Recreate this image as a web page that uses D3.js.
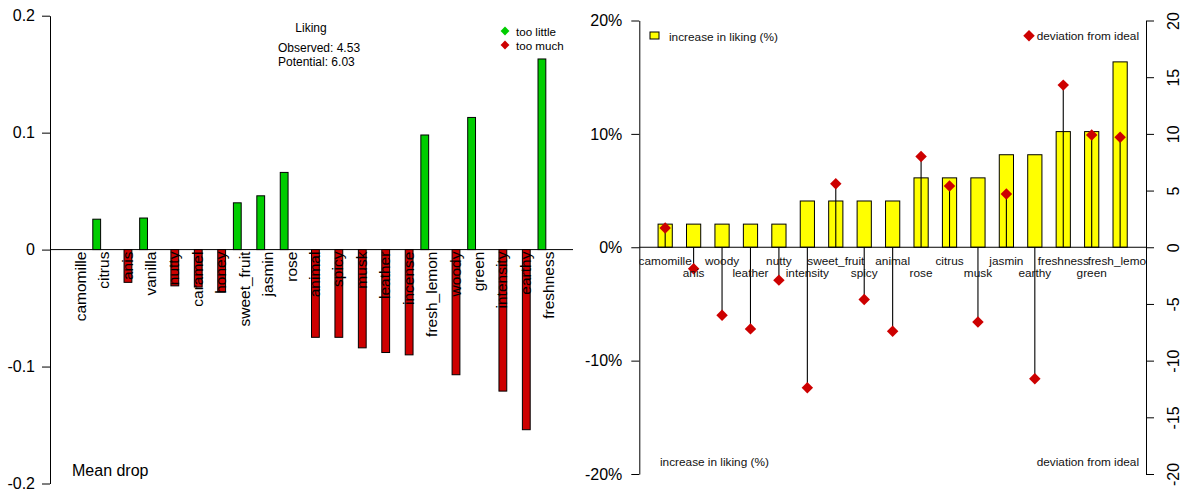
<!DOCTYPE html>
<html>
<head>
<meta charset="utf-8">
<script src="https://cdn.jsdelivr.net/npm/d3@7"></script>
<style>
  html, body { margin: 0; padding: 0; background: #fff; }
  svg { display: block; font-family: "Liberation Sans", Arial, Helvetica, sans-serif; }
</style>
</head>
<body>
<svg id="chart" width="1182" height="494"></svg>
<script>
// Penalty analysis: mean drop per attribute (left) and potential gain in liking (right)
const dropCategories = ["camomille", "citrus", "anis", "vanilla", "nutty", "caramel", "honey",
  "sweet_fruit", "jasmin", "rose", "animal", "spicy", "musk", "leather", "incense",
  "fresh_lemon", "woody", "green", "intensity", "earthy", "freshness"];
const tooLittle = [0, 0.026, 0, 0.027, 0, 0, 0, 0.040, 0.046, 0.066, 0, 0, 0, 0, 0,
  0.098, 0, 0.113, 0, 0, 0.163];
const tooMuch = [0, 0, -0.028, 0, -0.031, -0.032, -0.036, 0, 0, 0, -0.075, -0.075, -0.084,
  -0.088, -0.090, 0, -0.107, 0, -0.121, -0.154, 0];
const dropTicks = [0.2, 0.1, 0, -0.1, -0.2];

const gainCategories = ["camomille", "anis", "woody", "leather", "nutty", "intensity",
  "sweet_fruit", "spicy", "animal", "rose", "citrus", "musk", "jasmin", "earthy",
  "freshness", "green", "fresh_lemon"];
const likingIncrease = [2.04, 2.04, 2.04, 2.04, 2.04, 4.08, 4.08, 4.08, 4.08, 6.12, 6.12,
  6.12, 8.16, 8.16, 10.2, 10.2, 16.35];
const deviation = [1.7, -1.9, -6.0, -7.2, -2.9, -12.4, 5.6, -4.6, -7.4, 8.0, 5.4, -6.6,
  4.7, -11.6, 14.3, 9.9, 9.7];
const pctTicks = [20, 10, 0, -10, -20];
const devTicks = [20, 15, 10, 5, 0, -5, -10, -15, -20];

const GREEN = "#00CD00", RED = "#CD0000", YELLOW = "#FFFF00";
const svg = d3.select("#chart");
const plain = d => String(d);  // ASCII hyphen for negatives

// ---------- Left panel: mean drop ----------
const L = { left: 50, right: 573 };
const yDrop = d3.scaleLinear().domain([-0.2, 0.2]).range([483.5, 15.7]);
// each group = one blank slot + two bars; bar extent padded by 4% on each side
const lSpan = 21 * 3 - 1, lPad = lSpan * 0.04;
const lUnit = (L.right - L.left) / (lSpan + 2 * lPad);
const xDrop = d3.scaleBand().domain(dropCategories)
  .range([L.left + lPad * lUnit, L.right - lPad * lUnit])
  .paddingInner(1 / 3).paddingOuter(0);
const xSub = d3.scaleBand().domain(["little", "much"]).range([0, xDrop.bandwidth()]);

const left = svg.append("g");
left.append("line").attr("x1", L.left).attr("x2", L.right)
  .attr("y1", yDrop(0)).attr("y2", yDrop(0)).attr("stroke", "#000");

const barRows = dropCategories.map((c, i) => [
  { cat: c, key: "little", v: tooLittle[i] },
  { cat: c, key: "much", v: tooMuch[i] }
]).flat();

left.selectAll("rect.bar").data(barRows).join("rect")
  .attr("class", "bar")
  .attr("x", d => xDrop(d.cat) + xSub(d.key))
  .attr("width", xSub.bandwidth())
  .attr("y", d => Math.min(yDrop(d.v), yDrop(0)) - (d.v === 0 ? 1 : 0))
  .attr("height", d => Math.abs(yDrop(d.v) - yDrop(0)))
  .attr("fill", d => d.key === "little" ? GREEN : RED)
  .attr("stroke", d => d.v === 0 ? "#bbb" : "#000")
  .attr("stroke-width", 1);

left.selectAll("text.cat").data(dropCategories).join("text")
  .attr("class", "cat")
  .attr("transform", d => `translate(${xDrop(d) + xDrop.bandwidth() / 2 + 3},${yDrop(0) + 2}) rotate(-90)`)
  .attr("text-anchor", "end")
  .attr("dominant-baseline", "central")
  .attr("font-size", 15.5)
  .text(d => d);

const axL = left.append("g").attr("transform", `translate(${L.left},0)`)
  .call(d3.axisLeft(yDrop).tickValues(dropTicks).tickSize(8).tickSizeOuter(0).tickPadding(7)
    .tickFormat(plain));
axL.selectAll("text").attr("font-size", 16).attr("fill", "#000").attr("font-family", null);
axL.selectAll("line, path").attr("stroke", "#000");

left.append("text").attr("x", 72).attr("y", 476).attr("font-size", 16).text("Mean drop");

left.append("text").attr("x", 311).attr("y", 32).attr("font-size", 12).attr("text-anchor", "middle").text("Liking");
left.append("text").attr("x", 278).attr("y", 52).attr("font-size", 12).text("Observed: 4.53");
left.append("text").attr("x", 278).attr("y", 66).attr("font-size", 12).text("Potential: 6.03");

const diamond = d3.symbol().type(d3.symbolDiamond2);
[["too little", GREEN, 31], ["too much", RED, 45]].forEach(([label, col, yy]) => {
  left.append("path").attr("d", diamond.size(50)()).attr("fill", col)
    .attr("transform", `translate(505,${yy})`);
  left.append("text").attr("x", 516).attr("y", yy).attr("dominant-baseline", "central")
    .attr("font-size", 11.6).text(label);
});

// ---------- Right panel: increase in liking & deviation ----------
const R = { left: 639.3, right: 1146 };
const yPct = d3.scaleLinear().domain([-20, 20]).range([474, 20.5]);
const yDev = d3.scaleLinear().domain([-20, 20]).range([474, 20.5]);
const rSpan = gainCategories.length * 2 - 1, rPad = rSpan * 0.04;
const rUnit = (R.right - R.left) / (rSpan + 2 * rPad);
const xGain = d3.scaleBand().domain(gainCategories)
  .range([R.left + rPad * rUnit, R.right - rPad * rUnit])
  .paddingInner(0.5).paddingOuter(0);

const right = svg.append("g");
svg.append("clipPath").attr("id", "plotR").append("rect")
  .attr("x", R.left).attr("y", 0).attr("width", R.right - R.left).attr("height", 494);

const gainRows = gainCategories.map((c, i) => ({ cat: c, v: likingIncrease[i], dev: deviation[i], i }));

right.selectAll("rect.gain").data(gainRows).join("rect")
  .attr("class", "gain")
  .attr("x", d => xGain(d.cat))
  .attr("width", xGain.bandwidth())
  .attr("y", d => yPct(d.v))
  .attr("height", d => yPct(0) - yPct(d.v))
  .attr("fill", YELLOW).attr("stroke", "#000").attr("stroke-width", 1);

right.append("line").attr("x1", R.left).attr("x2", R.right)
  .attr("y1", yPct(0)).attr("y2", yPct(0)).attr("stroke", "#000");

const cx = d => xGain(d.cat) + xGain.bandwidth() / 2;
right.selectAll("line.stem").data(gainRows).join("line")
  .attr("class", "stem")
  .attr("x1", cx).attr("x2", cx)
  .attr("y1", yDev(0)).attr("y2", d => yDev(d.dev))
  .attr("stroke", "#000").attr("stroke-width", 1.1);

right.selectAll("path.dev").data(gainRows).join("path")
  .attr("class", "dev")
  .attr("d", diamond.size(84)())
  .attr("transform", d => `translate(${cx(d)},${yDev(d.dev)})`)
  .attr("fill", RED);

right.append("g").attr("clip-path", "url(#plotR)")
  .selectAll("text").data(gainRows).join("text")
  .attr("x", cx)
  .attr("y", d => d.i % 2 === 0 ? 261 : 273.3)
  .attr("text-anchor", "middle").attr("dominant-baseline", "central")
  .attr("font-size", 11.8).attr("fill", "#111")
  .text(d => d.cat);

const axP = right.append("g").attr("transform", `translate(${R.left},0)`)
  .call(d3.axisLeft(yPct).tickValues(pctTicks).tickSize(8).tickSizeOuter(0).tickPadding(9)
    .tickFormat(d => d + "%"));
axP.selectAll("text").attr("font-size", 16).attr("fill", "#000").attr("font-family", null);
axP.selectAll("line, path").attr("stroke", "#000");

const axD = right.append("g").attr("transform", `translate(${R.right},0)`)
  .call(d3.axisRight(yDev).tickValues(devTicks).tickSize(8).tickSizeOuter(0).tickFormat(plain));
axD.selectAll("text")
  .attr("x", null).attr("dy", null)
  .attr("transform", "translate(27,0) rotate(-90)")
  .attr("text-anchor", "middle").attr("dominant-baseline", "central")
  .attr("font-size", 16).attr("fill", "#000").attr("font-family", null);
axD.selectAll("line, path").attr("stroke", "#000");

// legends
right.append("rect").attr("x", 650).attr("y", 32).attr("width", 9).attr("height", 7)
  .attr("fill", YELLOW).attr("stroke", "#000");
right.append("text").attr("x", 669).attr("y", 36.5).attr("dominant-baseline", "central")
  .attr("font-size", 11.8).attr("fill", "#111").text("increase in liking (%)");
right.append("path").attr("d", diamond.size(84)()).attr("fill", RED)
  .attr("transform", "translate(1029,35.7)");
right.append("text").attr("x", 1139).attr("y", 36).attr("text-anchor", "end")
  .attr("dominant-baseline", "central").attr("font-size", 11.8).attr("fill", "#111")
  .text("deviation from ideal");

right.append("text").attr("x", 660).attr("y", 461.7).attr("dominant-baseline", "central")
  .attr("font-size", 11.8).attr("fill", "#111").text("increase in liking (%)");
right.append("text").attr("x", 1139).attr("y", 461.7).attr("text-anchor", "end")
  .attr("dominant-baseline", "central").attr("font-size", 11.8).attr("fill", "#111")
  .text("deviation from ideal");
</script>
</body>
</html>
